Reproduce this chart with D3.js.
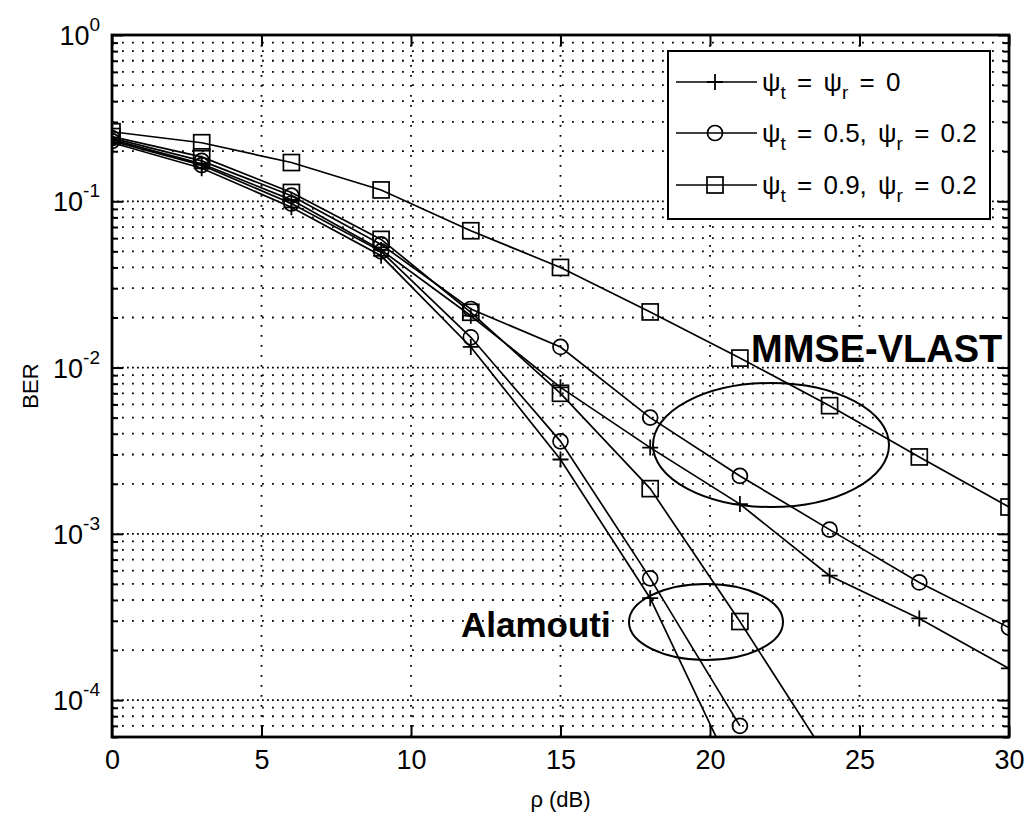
<!DOCTYPE html>
<html>
<head>
<meta charset="utf-8">
<script src="https://cdn.jsdelivr.net/npm/d3@7"></script>
<style>
  body { margin: 0; background: #fff; }
  text { font-family: "Liberation Sans", Arial, Helvetica, sans-serif; fill: #000; }
</style>
</head>
<body>
<svg id="chart" width="1025" height="816"></svg>
<script>
// SNR points (dB) shared by all curves
const snrDb = [0, 3, 6, 9, 12, 15, 18, 21, 24, 27, 30];

// MMSE-VLAST bit error rates
const mmsePsi00 = [0.235, 0.168, 0.102, 0.051, 0.0205, 0.0076, 0.0033, 0.00151, 0.00056, 0.00031, 0.000155];
const mmsePsi0502 = [0.240, 0.175, 0.108, 0.055, 0.0225, 0.0133, 0.0050, 0.00223, 0.00106, 0.00051, 0.000273];
const mmsePsi0902 = [0.262, 0.225, 0.171, 0.117, 0.0665, 0.040, 0.0216, 0.0114, 0.0059, 0.0029, 0.00145];

// Alamouti bit error rates (later points fall below the axis range)
const alamPsi00 = [0.225, 0.158, 0.092, 0.047, 0.0133, 0.0028, 0.00041, 0.00003];
const alamPsi0502 = [0.230, 0.165, 0.097, 0.050, 0.0152, 0.0036, 0.00054, 0.00007];
const alamPsi0902 = [0.245, 0.185, 0.113, 0.059, 0.0215, 0.0070, 0.00187, 0.000297, 0.000043];

// Axis ticks
const xTickValues = [0, 5, 10, 15, 20, 25, 30];
const yExponents = [0, -1, -2, -3, -4];

// Legend entries
const legendEntries = [
  { marker: "plus",   parts: [["ψ", 0], ["t", 1], [" = ", 0], ["ψ", 0], ["r", 1], [" = 0", 0]] },
  { marker: "circle", parts: [["ψ", 0], ["t", 1], [" = 0.5, ", 0], ["ψ", 0], ["r", 1], [" = 0.2", 0]] },
  { marker: "square", parts: [["ψ", 0], ["t", 1], [" = 0.9, ", 0], ["ψ", 0], ["r", 1], [" = 0.2", 0]] }
];

const series = [
  { values: mmsePsi00, marker: "plus" },
  { values: mmsePsi0502, marker: "circle" },
  { values: mmsePsi0902, marker: "square" },
  { values: alamPsi00, marker: "plus" },
  { values: alamPsi0502, marker: "circle" },
  { values: alamPsi0902, marker: "square" }
];

const svg = d3.select("#chart");
const L = 112, R = 1009, T = 35, B = 737;

const x = d3.scaleLinear().domain([0, 30]).range([L, R]);
const y = d3.scaleLog().domain([6e-5, 1]).range([B, T]);

svg.append("defs").append("clipPath").attr("id", "plotClip")
  .append("rect").attr("x", L).attr("y", T).attr("width", R - L).attr("height", B - T);

// ---- grid ----
const majorY = yExponents.map(e => Math.pow(10, e));
const minorY = [];
for (let e = -5; e < 0; e++) {
  for (let m = 2; m <= 9; m++) {
    const v = m * Math.pow(10, e);
    if (v >= 6e-5 && v < 1) minorY.push(v);
  }
}
const grid = svg.append("g");
grid.selectAll(".gy").data(minorY).join("line")
  .attr("x1", L).attr("x2", R)
  .attr("y1", d => y(d)).attr("y2", d => y(d))
  .attr("stroke", "#000").attr("stroke-width", 1.8)
  .attr("stroke-dasharray", "1.8 8.2");
grid.selectAll(".gY").data(majorY.filter(v => v < 1)).join("line")
  .attr("x1", L).attr("x2", R)
  .attr("y1", d => y(d)).attr("y2", d => y(d))
  .attr("stroke", "#000").attr("stroke-width", 1.8)
  .attr("stroke-dasharray", "1.8 3.2");
grid.selectAll(".gx").data(xTickValues.filter(v => v > 0 && v < 30)).join("line")
  .attr("x1", d => x(d)).attr("x2", d => x(d))
  .attr("y1", T).attr("y2", B)
  .attr("stroke", "#000").attr("stroke-width", 1.8)
  .attr("stroke-dasharray", "1.8 8.2");

// ---- axes (ticks pointing inward on all four sides) ----
function styleAxis(g) {
  g.select(".domain").remove();
  g.selectAll(".tick line").attr("stroke", "#000").attr("stroke-width", 2);
}
svg.append("g").attr("transform", `translate(0,${B})`)
  .call(d3.axisBottom(x).tickValues(xTickValues).tickSize(-11).tickPadding(13).tickFormat(d3.format("d")))
  .call(styleAxis)
  .call(g => g.attr("font-size", 27).attr("font-family", "Liberation Sans, Arial, sans-serif"));
svg.append("g").attr("transform", `translate(0,${T})`)
  .call(d3.axisTop(x).tickValues(xTickValues).tickSize(-11).tickFormat(""))
  .call(styleAxis);
svg.append("g").attr("transform", `translate(${L},0)`)
  .call(d3.axisLeft(y).tickValues(majorY).tickSize(-11).tickFormat(""))
  .call(styleAxis);
svg.append("g").attr("transform", `translate(${L},0)`)
  .call(d3.axisLeft(y).tickValues(minorY).tickSize(-6).tickFormat(""))
  .call(styleAxis);
svg.append("g").attr("transform", `translate(${R},0)`)
  .call(d3.axisRight(y).tickValues(majorY).tickSize(-11).tickFormat(""))
  .call(styleAxis);
svg.append("g").attr("transform", `translate(${R},0)`)
  .call(d3.axisRight(y).tickValues(minorY).tickSize(-6).tickFormat(""))
  .call(styleAxis);

// y tick labels as 10 with a superscript exponent
const yLab = svg.append("g");
yExponents.forEach(e => {
  const t = yLab.append("text")
    .attr("x", 100).attr("y", y(Math.pow(10, e)) + 10)
    .attr("text-anchor", "end");
  t.append("tspan").attr("font-size", 27).text("10");
  t.append("tspan").attr("font-size", 19).attr("dy", -14).text(String(e));
});

// axis titles
svg.append("text").attr("transform", `translate(38,${(T + B) / 2}) rotate(-90)`)
  .attr("text-anchor", "middle").attr("font-size", 22).text("BER");
svg.append("text").attr("x", (L + R) / 2).attr("y", 807)
  .attr("text-anchor", "middle").attr("font-size", 22).text("ρ (dB)");

// ---- curves ----
const line = d3.line().x(d => x(d[0])).y(d => y(d[1]));
const plot = svg.append("g").attr("clip-path", "url(#plotClip)");

function drawMarker(g, type, cx, cy) {
  if (type === "plus") {
    g.append("path").attr("d", `M${cx - 8},${cy}H${cx + 8}M${cx},${cy - 8}V${cy + 8}`)
      .attr("stroke", "#000").attr("stroke-width", 1.8).attr("fill", "none");
  } else if (type === "circle") {
    g.append("circle").attr("cx", cx).attr("cy", cy).attr("r", 7.5)
      .attr("stroke", "#000").attr("stroke-width", 1.7).attr("fill", "none");
  } else {
    g.append("rect").attr("x", cx - 8).attr("y", cy - 8).attr("width", 16).attr("height", 16)
      .attr("stroke", "#000").attr("stroke-width", 1.7).attr("fill", "none");
  }
}

series.forEach(s => {
  const pts = s.values.map((v, i) => [snrDb[i], v]);
  plot.append("path").datum(pts).attr("d", line)
    .attr("fill", "none").attr("stroke", "#000").attr("stroke-width", 1.7);
  pts.forEach(p => drawMarker(plot, s.marker, x(p[0]), y(p[1])));
});

// ---- group annotations ----
const ann = svg.append("g");
ann.append("ellipse").attr("cx", 771).attr("cy", 445).attr("rx", 118).attr("ry", 62)
  .attr("fill", "none").attr("stroke", "#000").attr("stroke-width", 2);
ann.append("ellipse").attr("cx", 706).attr("cy", 622).attr("rx", 77).attr("ry", 38)
  .attr("fill", "none").attr("stroke", "#000").attr("stroke-width", 2);
ann.append("text").attr("x", 751).attr("y", 362).attr("font-size", 38).attr("font-weight", "bold")
  .text("MMSE-VLAST");
ann.append("text").attr("x", 461).attr("y", 637).attr("font-size", 35).attr("font-weight", "bold")
  .text("Alamouti");

// ---- plot frame ----
svg.append("rect").attr("x", L).attr("y", T).attr("width", R - L).attr("height", B - T)
  .attr("fill", "none").attr("stroke", "#000").attr("stroke-width", 2.8);

// ---- legend ----
const lg = svg.append("g");
const lgLeft = 668, lgTop = 51, lgRight = 990, lgBottom = 219;
lg.append("rect").attr("x", lgLeft).attr("y", lgTop)
  .attr("width", lgRight - lgLeft).attr("height", lgBottom - lgTop)
  .attr("fill", "#fff").attr("stroke", "#000").attr("stroke-width", 2);
const rowY = [82, 133, 185];
legendEntries.forEach((entry, i) => {
  const ry = rowY[i];
  lg.append("line").attr("x1", 676).attr("x2", 757).attr("y1", ry).attr("y2", ry)
    .attr("stroke", "#000").attr("stroke-width", 1.7);
  drawMarker(lg, entry.marker, 715, ry);
  const t = lg.append("text").attr("x", 762).attr("y", ry + 9)
    .attr("font-size", 26).style("white-space", "pre")
    .attr("word-spacing", 4);
  entry.parts.forEach(([s, sub], k) => {
    const ts = t.append("tspan").text(s);
    if (sub) ts.attr("font-size", 19).attr("dy", 8);
    else if (k > 0 && entry.parts[k - 1][1]) ts.attr("dy", -8);
  });
});
</script>
</body>
</html>
